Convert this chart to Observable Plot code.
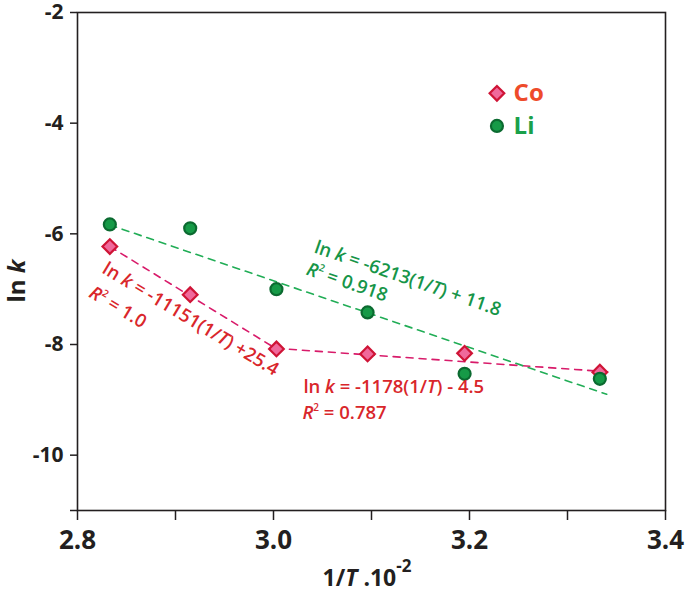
<!DOCTYPE html>
<html>
<head>
<meta charset="utf-8">
<script src="https://cdn.jsdelivr.net/npm/d3@7"></script>
<script src="https://cdn.jsdelivr.net/npm/@observablehq/plot@0.6"></script>
<style>
  html, body { margin: 0; padding: 0; background: #fff; }
  #chart { width: 685px; height: 593px; }
</style>
</head>
<body>
<div id="chart"></div>
<script>
// ---- data ----
const invT = [2.833, 2.915, 3.003, 3.096, 3.195, 3.333];          // 1/T · 10^-2 (×1000)
const coLnK = [-6.23, -7.10, -8.08, -8.17, -8.16, -8.50];
const liLnK = [-5.83, -5.90, -7.00, -7.42, -8.53, -8.62];

const coFit1X = [2.833, 3.003];
const coFit1Y = [-6.23, -8.08];
const coFit2X = [3.003, 3.347];
const coFit2Y = [-8.07, -8.50];
const liFitX = [2.833, 3.340];
const liFitY = [-5.84, -8.90];

const xTicks = [2.8, 2.9, 3.0, 3.1, 3.2, 3.3, 3.4];
const xTickLabels = ["2.8", "", "3.0", "", "3.2", "", "3.4"];
const yTicks = [-2, -4, -6, -8, -10, -11];
const yTickLabels = ["-2", "-4", "-6", "-8", "-10", ""];

const seriesNames = ["Co", "Li"];

// ---- styling ----
const ink = "#231f20";
const coFill = "#f0699b", coStroke = "#cf1436", coLine = "#d81b6a", coText = "#d9262b";
const liFill = "#169a47", liStroke = "#0b6a30", liLine = "#21ad56", liText = "#169548";
const legendCo = "#ee4b2b", legendLi = "#1aa04a";

const co = invT.map((x, i) => ({x, y: coLnK[i]}));
const li = invT.map((x, i) => ({x, y: liLnK[i]}));
const toPts = (xs, ys) => xs.map((x, i) => ({x, y: ys[i]}));

const xLab = new Map(xTicks.map((t, i) => [t.toFixed(1), xTickLabels[i]]));
const yLab = new Map(yTicks.map((t, i) => [String(t), yTickLabels[i]]));

const plot = Plot.plot({
  width: 685,
  height: 593,
  marginLeft: 77,
  marginRight: 20,
  marginTop: 12,
  marginBottom: 83,
  style: {background: "#fff", color: ink, fontFamily: "'Open Sans', sans-serif", overflow: "visible"},
  x: {domain: [2.8, 3.4]},
  y: {domain: [-11, -2]},
  marks: [
    Plot.axisX({ticks: xTicks, tickFormat: d => xLab.get(d.toFixed(1)), tickSize: 10, tickPadding: 10,
      fontSize: 26, fontWeight: "bold", label: null, strokeWidth: 1.5}),
    Plot.axisY({ticks: yTicks, tickFormat: d => yLab.get(String(d)), tickSize: 7, tickPadding: 7,
      fontSize: 21, fontWeight: "bold", label: null, strokeWidth: 1.5}),
    Plot.frame({stroke: ink, strokeWidth: 1.6}),
    Plot.line(toPts(coFit1X, coFit1Y), {x: "x", y: "y", stroke: coLine, strokeWidth: 1.6, strokeDasharray: "7,6"}),
    Plot.line(toPts(coFit2X, coFit2Y), {x: "x", y: "y", stroke: coLine, strokeWidth: 1.6, strokeDasharray: "7,6"}),
    Plot.line(toPts(liFitX, liFitY), {x: "x", y: "y", stroke: liLine, strokeWidth: 1.6, strokeDasharray: "7,6"}),
    Plot.dot(co, {x: "x", y: "y", symbol: "diamond2", r: 6.6, fill: coFill, stroke: coStroke, strokeWidth: 2.2}),
    Plot.dot(li, {x: "x", y: "y", r: 6, fill: liFill, stroke: liStroke, strokeWidth: 2.2}),
    // legend
    Plot.dot([{x: 3.228, y: -3.46}], {x: "x", y: "y", symbol: "diamond2", r: 6.6, fill: coFill, stroke: coStroke, strokeWidth: 2.2}),
    Plot.dot([{x: 3.228, y: -4.05}], {x: "x", y: "y", r: 6, fill: liFill, stroke: liStroke, strokeWidth: 2.2}),
    Plot.text([{x: 3.245, y: -3.46, t: seriesNames[0]}], {x: "x", y: "y", text: "t", fill: legendCo, fontSize: 24, fontWeight: "bold", textAnchor: "start"}),
    Plot.text([{x: 3.245, y: -4.05, t: seriesNames[1]}], {x: "x", y: "y", text: "t", fill: legendLi, fontSize: 24, fontWeight: "bold", textAnchor: "start"})
  ]
});

document.getElementById("chart").appendChild(plot);

// ---- annotations with mixed italic / superscript text ----
const sx = plot.scale("x"), sy = plot.scale("y");
const svg = d3.select(plot);

const annotations = [
  {x: 3.041, y: -6.342, angle: 19, color: liText, parts: [["ln ", ""], ["k", "i"], [" = -6213(1/", ""], ["T", "i"], [") + 11.8", ""]]},
  {x: 3.033, y: -6.739, angle: 19, color: liText, parts: [["R", "i"], ["2", "sup"], [" = 0.918", "after"]]},
  {x: 2.8245, y: -6.703, angle: 31, color: coText, parts: [["ln ", ""], ["k", "i"], [" = -11151(1/", ""], ["T", "i"], [") +25.4", ""]]},
  {x: 2.811, y: -7.135, angle: 31, color: coText, parts: [["R", "i"], ["2", "sup"], [" = 1.0", "after"]]},
  {x: 3.031, y: -8.883, angle: 0, color: coText, parts: [["ln ", ""], ["k", "i"], [" = -1178(1/", ""], ["T", "i"], [") - 4.5", ""]]},
  {x: 3.030, y: -9.351, angle: 0, color: coText, parts: [["R", "i"], ["2", "sup"], [" = 0.787", "after"]]}
];

const g = svg.append("g").attr("font-family", "'Open Sans', sans-serif").attr("text-anchor", "start");
for (const a of annotations) {
  const px = sx.apply(a.x), py = sy.apply(a.y);
  const t = g.append("text")
    .attr("transform", `translate(${px},${py}) rotate(${a.angle})`)
    .attr("text-anchor", "start")
    .attr("fill", a.color)
    .attr("font-size", 18.5)
    .attr("font-weight", 600);
  for (const [s, kind] of a.parts) {
    const ts = t.append("tspan").text(s);
    if (kind === "i") ts.attr("font-style", "italic");
    if (kind === "sup") ts.attr("font-size", 10).attr("dy", -8);
    if (kind === "after") ts.attr("dy", 8);
  }
}

// axis titles
const xt = svg.append("text")
  .attr("x", sx.apply(2.8) + (sx.apply(3.4) - sx.apply(2.8)) / 2 - 4)
  .attr("y", 586)
  .attr("text-anchor", "middle")
  .attr("fill", ink)
  .attr("font-family", "'Open Sans', sans-serif")
  .attr("font-size", 23)
  .attr("font-weight", "bold");
xt.append("tspan").text("1/");
xt.append("tspan").attr("font-style", "italic").text("T");
xt.append("tspan").text(" .10");
xt.append("tspan").attr("font-size", 17).attr("dy", -14).text("-2");

const yMid = (sy.apply(-2) + sy.apply(-11)) / 2;
const yt = svg.append("text")
  .attr("transform", `translate(25,${yMid + 20}) rotate(-90)`)
  .attr("text-anchor", "middle")
  .attr("fill", ink)
  .attr("font-family", "'Open Sans', sans-serif")
  .attr("font-size", 24)
  .attr("font-weight", "bold");
yt.append("tspan").text("ln ");
yt.append("tspan").attr("font-style", "italic").text("k");
</script>
</body>
</html>
